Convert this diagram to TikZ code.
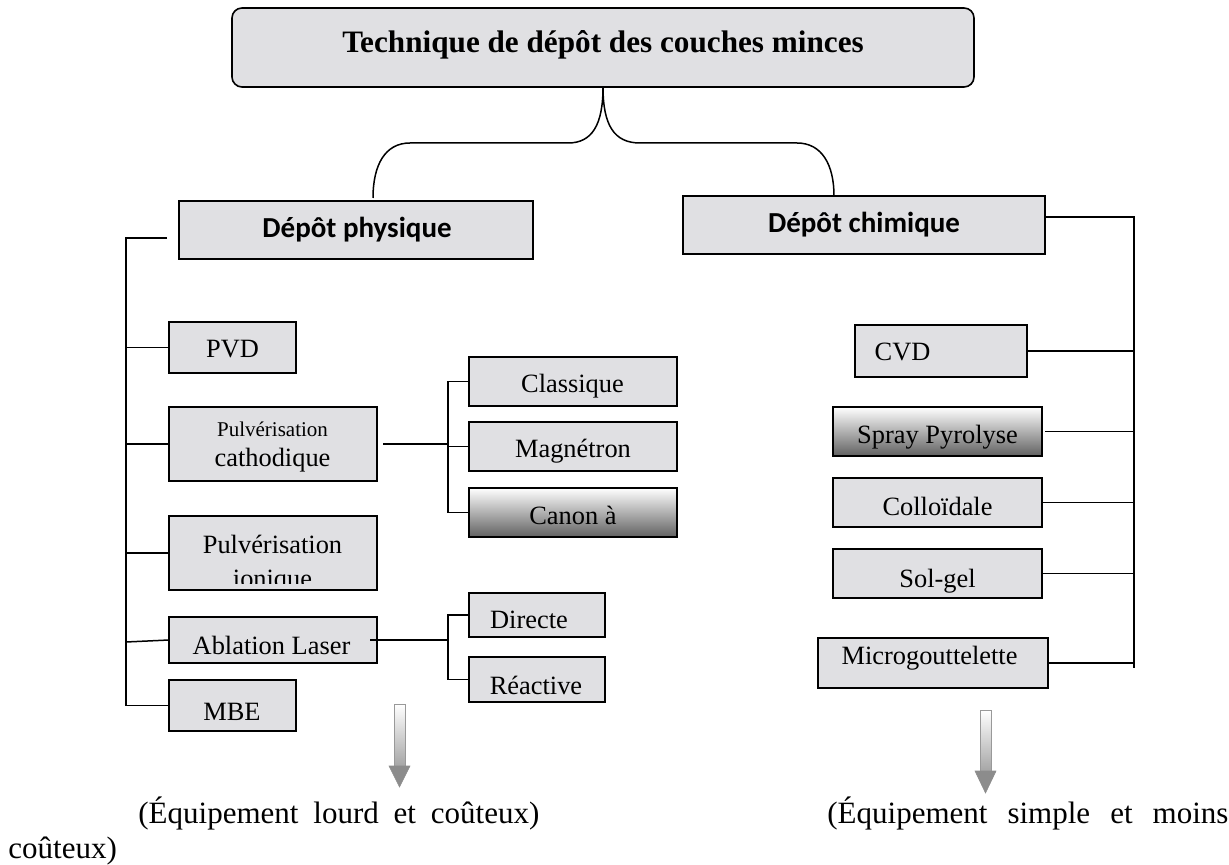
\documentclass[tikz,border=0pt]{standalone}
\usepackage{fontspec}
\setmainfont{Liberation Serif}
\newfontfamily\calibri{Carlito}
\usetikzlibrary{calc}
\definecolor{marblecol}{RGB}{224,224,227}
\begin{document}
\begin{tikzpicture}[x=0.5pt,y=-0.5pt,
  marble/.style={draw=black, line width=0.8pt, fill=marblecol, inner sep=0pt, outer sep=0pt},
  gradbox/.style={draw=black, line width=0.8pt, top color=white, bottom color=black!62, inner sep=0pt, outer sep=0pt},
  ln/.style={line width=0.75pt, black},
  txt/.style={anchor=base, inner sep=0pt, font=\fontsize{13.2}{15}\selectfont},
  smalltxt/.style={anchor=base, inner sep=0pt, font=\fontsize{10.5}{12}\selectfont},
  headtxt/.style={anchor=base, inner sep=0pt, font=\calibri\bfseries\fontsize{14.5}{17}\selectfont},
  bottxt/.style={anchor=base west, inner sep=0pt, font=\fontsize{15.5}{18}\selectfont},
  shaft/.style={draw=black!40, line width=0.5pt, top color=white, bottom color=black!35},
  tip/.style={fill=black!45, draw=black!45, line width=0.3pt}]
\useasboundingbox (0,0) rectangle (1229,865);

% title
\node[marble, rounded corners=5pt, minimum width=371pt, minimum height=39.5pt] (title) at (603,47.5) {};
\node[anchor=base, inner sep=0pt, font=\bfseries\fontsize{15.6}{18}\selectfont] (titletxt) at (603,53) {Technique de dépôt des couches minces};

% main boxes
\node[marble, minimum width=177pt, minimum height=29pt] (phys) at (356,230) {};
\node[headtxt] (physt) at (357,238) {Dépôt physique};
\node[marble, minimum width=181pt, minimum height=29pt] (chim) at (864,225) {};
\node[headtxt] (chimt) at (864,233) {Dépôt chimique};

% brace
\coordinate (bL) at (373,198);
\coordinate (bR) at (834,196);
\draw[ln] (title.south) .. controls (603,125) and (592,143) .. (568,143) -- (410,143) .. controls (385,143) and (373,165) .. (bL);
\draw[ln] (title.south) .. controls (603,125) and (614,143) .. (640,143) -- (797,143) .. controls (822,143) and (834,165) .. (bR);

% left boxes
\node[marble, minimum width=63.5pt, minimum height=25.5pt] (pvd) at (232.5,347.5) {};
\node[txt] (pvdt) at (232.5,358) {PVD};
\node[marble, minimum width=104pt, minimum height=37pt] (cath) at (273,444) {};
\node[smalltxt] (catht1) at (272.5,437) {Pulvérisation};
\node[txt] (catht2) at (272.5,466) {cathodique};
\node[marble, minimum width=104pt, minimum height=37pt] (ion) at (273,553) {};
\node[txt] (iont1) at (272.5,553) {Pulvérisation};
\begin{scope}
\clip (169,516) rectangle (377,583);
\node[txt] (iont2) at (272.5,587) {ionique};
\end{scope}
\node[marble, minimum width=104pt, minimum height=23pt] (abl) at (273,640) {};
\node[txt] (ablt) at (271.5,654) {Ablation Laser};
\node[marble, minimum width=63.5pt, minimum height=25.5pt] (mbe) at (232.5,705.5) {};
\node[txt] (mbet) at (232,720) {MBE};

% sub boxes
\node[marble, minimum width=104pt, minimum height=24.5pt] (cla) at (573,381.5) {};
\node[txt] (clat) at (572.5,393) {Classique};
\node[marble, minimum width=104pt, minimum height=24.5pt] (mag) at (573,446.5) {};
\node[txt] (magt) at (573,457) {Magnétron};
\node[gradbox, minimum width=104pt, minimum height=24.5pt] (can) at (573,512.5) {};
\node[txt] (cant) at (573,524.5) {Canon à};
\node[marble, minimum width=68pt, minimum height=22pt] (dir) at (537,615) {};
\node[txt] (dirt) at (529,628) {Directe};
\node[marble, minimum width=68pt, minimum height=22.5pt] (rea) at (537,679.5) {};
\node[txt] (reat) at (536,694) {Réactive};

% right boxes
\node[marble, minimum width=86pt, minimum height=26pt] (cvd) at (941,351) {};
\node[txt] (cvdt) at (902.5,361) {CVD};
\node[gradbox, minimum width=104.5pt, minimum height=24.5pt] (spr) at (937.5,431.5) {};
\node[txt] (sprt) at (937.5,444) {Spray Pyrolyse};
\node[marble, minimum width=104.5pt, minimum height=24.5pt] (col) at (937.5,502.5) {};
\node[txt] (colt) at (937.5,515) {Colloïdale};
\node[marble, minimum width=104.5pt, minimum height=24.5pt] (sol) at (937.5,573.5) {};
\node[txt] (solt) at (937.5,587) {Sol-gel};
\node[marble, minimum width=115pt, minimum height=25pt] (mic) at (933,663) {};
\node[txt] (mict) at (929.5,664) {Microgouttelette};

% left trunk
\coordinate (tL) at (126,238);
\draw[ln] ([xshift=-6pt]phys.west |- tL) -- (tL) -- (tL |- mbe.west) -- (mbe.west);
\draw[ln] (tL |- pvd.west) -- (pvd.west);
\draw[ln] (tL |- cath.west) -- (cath.west);
\draw[ln] (tL |- ion.west) -- (ion.west);
\draw[ln] ([yshift=-1pt]tL |- abl.west) -- (abl.west);

% sub trees
\coordinate (j) at (448,0);
\draw[ln] ([xshift=3pt]cath.east) -- (j |- cath.east);
\draw[ln] (cla.west) -- (j |- cla.west) -- (j |- can.west) -- (can.west);
\draw[ln] (j |- mag.west) -- (mag.west);
\draw[ln] ([xshift=-3.5pt]abl.east) -- (j |- abl.east);
\draw[ln] (dir.west) -- (j |- dir.west) -- (j |- rea.west) -- (rea.west);

% right trunk
\coordinate (tR) at (1134,0);
\draw[ln] ([yshift=4pt]chim.east) -| ([yshift=-2.5pt]tR |- mic.east);
\draw[ln] (cvd.east) -- (tR |- cvd.east);
\draw[ln] ([xshift=1.5pt]spr.east) -- (tR |- spr.east);
\draw[ln] (col.east) -- (tR |- col.east);
\draw[ln] (sol.east) -- (tR |- sol.east);
\draw[ln] (mic.east) -- (tR |- mic.east);

% arrows
\path[shaft] (394,704) rectangle (405,766);
\path[tip] (389,766) -- (410,766) -- (399.5,787) -- cycle;
\path[shaft] (980,710) rectangle (991,771);
\path[tip] (975,771) -- (996,771) -- (985.5,793) -- cycle;

% bottom text
\node[bottxt] (c1) at (138,823) {\makebox[200.5pt][s]{(Équipement lourd et coûteux)}};
\node[bottxt] (c2) at (827,823) {\makebox[200.5pt][s]{(Équipement simple et moins}};
\node[bottxt] (c3) at (8,858) {coûteux)};
\end{tikzpicture}
\end{document}
